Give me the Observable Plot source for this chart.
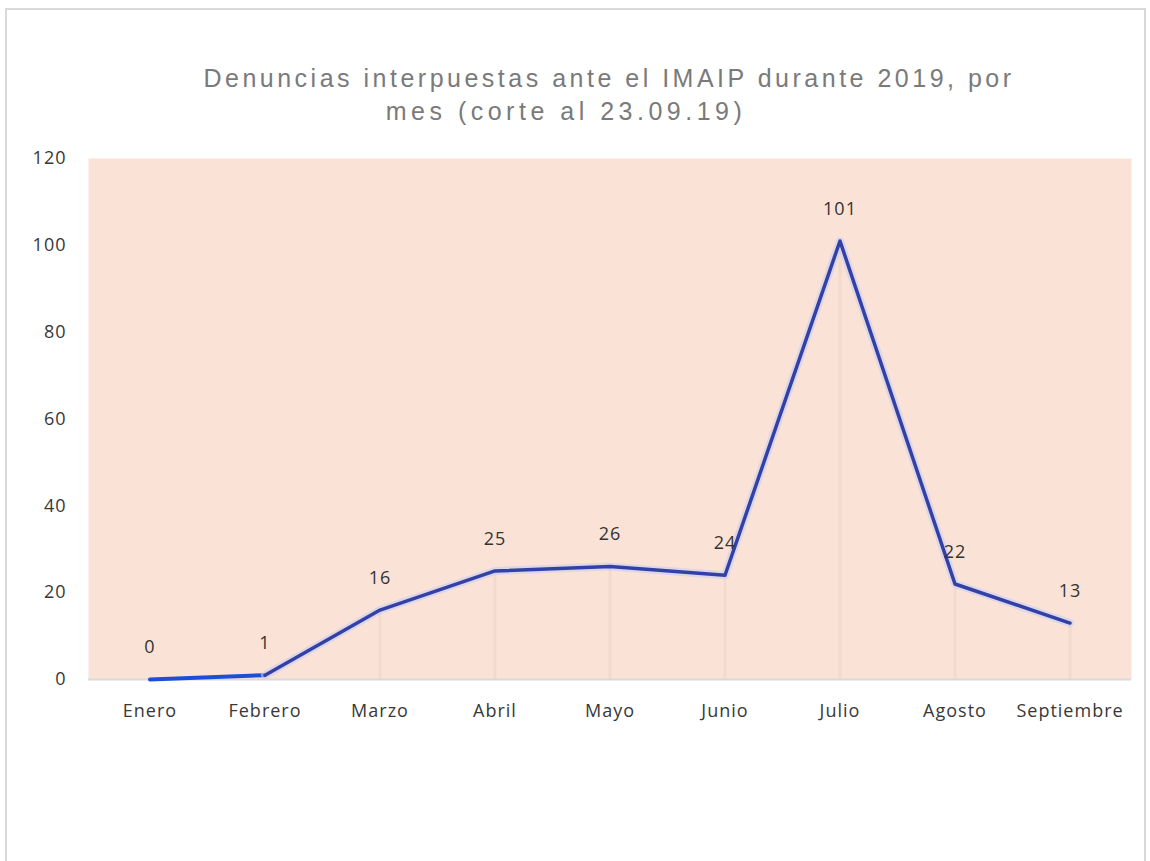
<!DOCTYPE html>
<html>
<head>
<meta charset="utf-8">
<script src="https://cdn.jsdelivr.net/npm/d3@7"></script>
<script src="https://cdn.jsdelivr.net/npm/@observablehq/plot@0.6"></script>
<style>
  html, body { margin: 0; padding: 0; background: #fff; width: 1150px; height: 861px; overflow: hidden; }
  #frame { position: absolute; left: 5px; top: 8px; width: 1141px; height: 900px; border: 2px solid #d9d9d9; box-sizing: border-box; }
  .t { position: absolute; white-space: nowrap; text-align: center; font-family: "Liberation Sans", Arial, sans-serif; font-size: 25px; letter-spacing: 3.5px; color: #7a7a7a; line-height: 33px; transform: translateX(-50%); }
  #chart { position: absolute; left: 0; top: 130px; }
</style>
</head>
<body>
<div id="frame"></div>
<div class="t" style="left:609px; top:62px;">Denuncias interpuestas ante el IMAIP durante 2019, por</div>
<div class="t" style="left:566px; top:95px; letter-spacing:4.5px;">mes (corte al 23.09.19)</div>
<div id="chart"></div>
<script>
const months = ["Enero","Febrero","Marzo","Abril","Mayo","Junio","Julio","Agosto","Septiembre"];
const values = [0, 1, 16, 25, 26, 24, 101, 22, 13];
const yTicks = [0, 20, 40, 60, 80, 100, 120];

const data = months.map((m, i) => ({month: m, value: values[i]}));

const chart = Plot.plot({
  width: 1150,
  height: 609,
  marginTop: 28,
  marginLeft: 88,
  marginRight: 19,
  marginBottom: 60,
  style: {fontFamily: "'Open Sans', sans-serif", fontSize: "18px", color: "#383838", background: "transparent", letterSpacing: "1px"},
  x: {type: "band", domain: months, padding: 0, label: null, tickSize: 0, tickPadding: 25},
  y: {domain: [0, 120], ticks: yTicks, label: null, tickSize: 0, tickPadding: 22},
  marks: [
    Plot.frame({fill: "#fae3d6", stroke: null}),
    Plot.ruleX(data.slice(2), {x: "month", y1: 0, y2: "value", stroke: "#ecd3c6", strokeWidth: 3, strokeOpacity: 0.6}),
    Plot.ruleY([0], {stroke: "#d9d9d9", strokeWidth: 2}),
    Plot.line(data.slice(0, 2), {x: "month", y: "value", stroke: "#1d4fd6", strokeWidth: 4}),
    Plot.line(data.slice(1), {x: "month", y: "value", stroke: "#c9ccf4", strokeWidth: 8, strokeOpacity: 0.6}),
    Plot.line(data.slice(1), {x: "month", y: "value", stroke: "#3341a6", strokeWidth: 3.5}),
    Plot.text(data, {x: "month", y: "value", text: d => String(d.value), dy: -32, fill: "#333", fontSize: 18})
  ]
});
document.getElementById("chart").appendChild(chart);
</script>
</body>
</html>
